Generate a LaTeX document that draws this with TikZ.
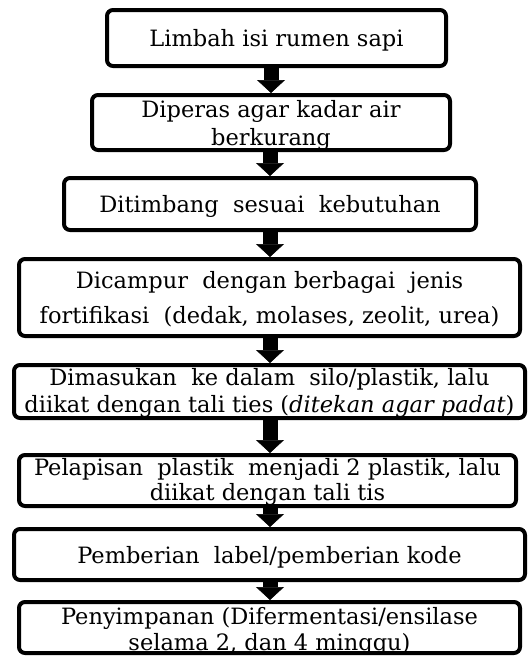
\documentclass[tikz,border=0pt]{standalone}
\usepackage{fontspec}
\setmainfont{DejaVu Serif}
\usetikzlibrary{arrows.meta, positioning}

\begin{document}
\begin{tikzpicture}[x=1pt, y=-1pt,
  box/.style={draw, line width=4pt, rounded corners=6pt, align=center, inner xsep=0pt, inner ysep=-25pt, font=\fontsize{22.5}{#1}\selectfont},
  box/.default=28,
  blk/.style={-{Triangle[width=28pt, length=13pt, line width=0.5pt]}, line width=15pt}
]
  \useasboundingbox (0,0) rectangle (528,657);

  \node[box, minimum width=339, minimum height=56, text height=17pt, text depth=0pt] (lim) at (276.5, 38) {Limbah isi rumen sapi};
  \node[box=28, minimum width=358, minimum height=55, text height=45pt, text depth=0pt] (peras) at (271, 122.5) {Diperas agar kadar air\\berkurang};
  \node[box, minimum width=412, minimum height=52, text height=17pt, text depth=0pt] (timbang) at (270, 204) {Ditimbang~ sesuai~ kebutuhan};
  \node[box=35, minimum width=501, minimum height=77, text height=52pt, text depth=0pt] (campur) at (269.5, 297.5) {Dicampur~ dengan berbagai~ jenis\\fortifikasi~ (dedak, molases, zeolit, urea)};
  \node[box=27, minimum width=511, minimum height=53, text height=41pt, text depth=0pt] (masuk) at (269.5, 391.5) {Dimasukan~ ke dalam~ silo/plastik, lalu\\diikat dengan tali ties (\textit{ditekan agar padat})};
  \node[box=25, minimum width=497, minimum height=51, text height=39pt, text depth=0pt] (lapis) at (267.5, 480.5) {Pelapisan~ plastik~ menjadi 2 plastik, lalu\\diikat dengan tali tis};
  \node[box, minimum width=511, minimum height=51, text height=17pt, text depth=0pt] (label) at (269.5, 554.5) {Pemberian~ label/pemberian kode};
  \node[box=26, minimum width=501, minimum height=51, text height=45pt, text depth=0pt] (simpan) at (269.5, 627.5) {Penyimpanan (Difermentasi/ensilase\\selama 2, dan 4 minggu)};

  \draw[blk] (lim.south -| peras.north) -- (peras.north);
  \draw[blk] (peras.south -| timbang.north) -- (timbang.north);
  \draw[blk] (timbang.south) -- (campur.north -| timbang.south);
  \draw[blk] (campur.south -| timbang.south) -- (masuk.north -| timbang.south);
  \draw[blk] (masuk.south -| timbang.south) -- (lapis.north -| timbang.south);
  \draw[blk] (lapis.south -| timbang.south) -- (label.north -| timbang.south);
  \draw[blk] (label.south -| timbang.south) -- (simpan.north -| timbang.south);
\end{tikzpicture}
\end{document}
